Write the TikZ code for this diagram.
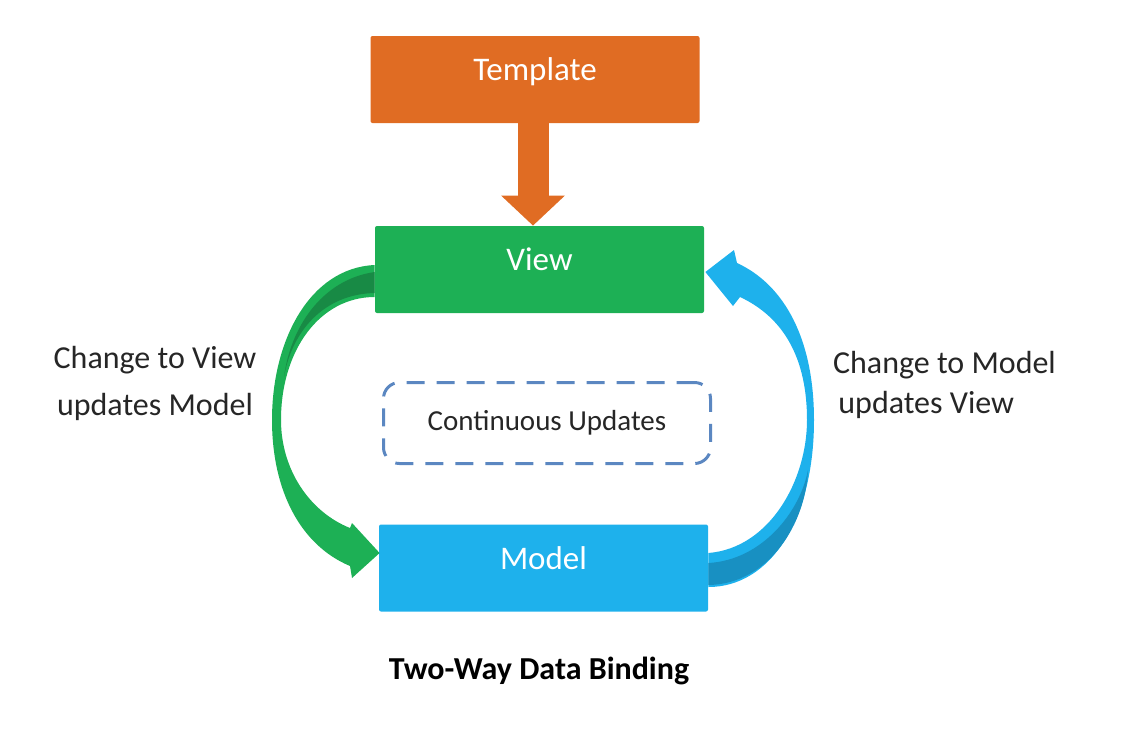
\documentclass[tikz,border=0pt]{standalone}
\usepackage{fontspec}
\setmainfont{Carlito}
\usetikzlibrary{calc,positioning,arrows.meta}
\definecolor{tplorange}{HTML}{E06C23}
\definecolor{viewgreen}{HTML}{1DB055}
\definecolor{darkgreen}{HTML}{188A45}
\definecolor{modelblue}{HTML}{1EB1EC}
\definecolor{darkblue}{HTML}{1890C2}
\definecolor{dashblue}{HTML}{5B87C1}
\definecolor{labelgray}{HTML}{262626}
\tikzset{
    mainbox/.style={
        rectangle,
        rounded corners=1pt,
        minimum width=164.5pt,
        minimum height=43.5pt,
        text height=10pt,
        text depth=9pt,
        text=white,
        font={\fontsize{16.5pt}{19pt}\selectfont}
    },
    dashbox/.style={
        rectangle,
        rounded corners=8pt,
        draw=dashblue, line width=1.5pt,
        dash pattern=on 9pt off 6pt,
        minimum width=163.5pt,
        minimum height=40.5pt,
        text=labelgray,
        font={\fontsize{14.5pt}{17pt}\selectfont}
    },
    sidelabel/.style={
        text=labelgray,
        font={\fontsize{16pt}{23.5pt}\selectfont}
    },
}

\begin{document}
\begin{tikzpicture}[x=0.5pt, y=-0.5pt]
\useasboundingbox (0,0) rectangle (1125,730);

% boxes
\node [mainbox, fill=tplorange] (template) at (535,79.5) {Template};
\node [mainbox, fill=viewgreen] (view) at (539.5,269.5) {View};
\node [mainbox, fill=modelblue] (model) at (543.5,568) {Model};
\node [dashbox] (updates) at (547,423) {Continuous Updates};

% labels
\node [sidelabel, align=center] (leftlabel) at (155,383) {Change to View\\updates Model};
\node [sidelabel, align=left, anchor=west, font={\fontsize{16pt}{20pt}\selectfont}]
  (rightlabel) at (826,385) {Change to Model\\\,updates View};
\node [font={\fontsize{16pt}{19pt}\selectfont\bfseries}] (title) at (539,671) {Two-Way Data Binding};

% template -> view
\draw [tplorange, line width=15.5pt, -{Triangle[length=15pt,width=31pt]}]
  ([xshift=-1pt]template.south) -- ([xshift=-1pt]template.south |- view.north);

% view -> model
\fill [viewgreen] ($(view.west)+(0,-4.5)$)
  .. controls (310,268) and (272,340) .. (272,420)
  .. controls (272,490) and (300,545) .. (350,566)
  -- (352,578) -- ($(model.west)+(1,-15)$) -- (352,523) -- (350,528)
  .. controls (310,512) and (281,470) .. (281,420)
  .. controls (281,350) and (320,297) .. ($(view.west)+(0,27.5)$) -- cycle;
\fill [darkgreen] ($(view.west)+(0,2.5)$)
  .. controls (320,280) and (290,330) .. (284,377)
  .. controls (292,330) and (325,294) .. ($(view.west)+(0,23.5)$) -- cycle;

% model -> view
\fill [modelblue] ($(model.east)+(0,-15)$)
  .. controls (770,548) and (807,480) .. (807,420)
  .. controls (807,360) and (785,318) .. (740,297)
  -- (733,306) -- ($(view.east)+(1,2.5)$) -- (734,250) -- (737,263)
  .. controls (785,285) and (814,340) .. (814,420)
  .. controls (814,520) and (770,587) .. ($(model.east)+(0,19)$) -- cycle;
\fill [darkblue] ($(model.east)+(0,-5)$)
  .. controls (762,560) and (800,512) .. (808,470)
  .. controls (806,522) and (770,584) .. ($(model.east)+(0,17)$) -- cycle;

\end{tikzpicture}
\end{document}
